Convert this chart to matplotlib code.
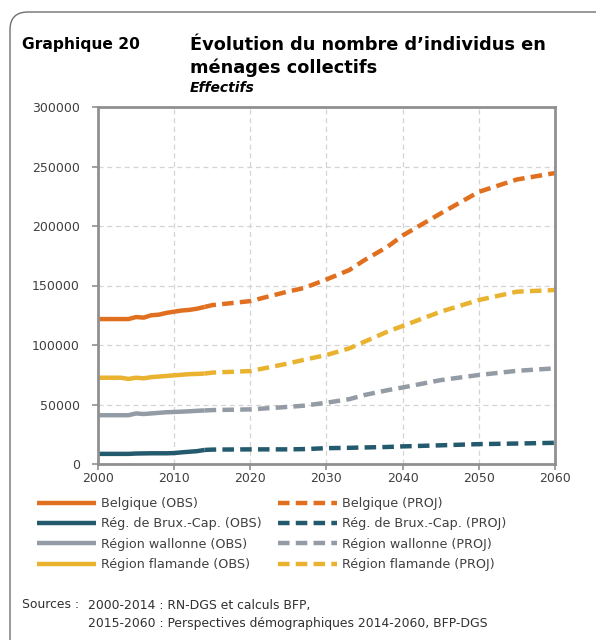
import numpy as np
import matplotlib.pyplot as plt
from matplotlib.patches import FancyBboxPatch

years_obs = list(range(2000, 2015))
years_proj = [2014, 2015, 2020, 2025, 2027, 2030, 2033, 2035, 2038, 2040, 2045, 2050, 2055, 2060]

belgique_obs = [121800, 121800, 121800, 121800, 121800, 123500, 123000, 125000,
                125500, 127000, 128000, 129000, 129500, 130500, 132000]
brux_obs = [8500, 8500, 8500, 8500, 8500, 8800, 8900, 9000, 9000, 9000,
            9200, 9800, 10300, 10800, 11800]
wallonne_obs = [41000, 41000, 41000, 41000, 41000, 42500, 42000, 42500, 43000,
                43500, 43700, 44000, 44300, 44700, 45000]
flamande_obs = [72500, 72500, 72500, 72500, 71500, 72500, 72000, 73000, 73500,
                74000, 74500, 75000, 75500, 75700, 76000]

belgique_proj = [132000, 133500, 136900, 145000, 147800, 155100, 163000, 171400,
                 182500, 192000, 210600, 228700, 239100, 244500]
brux_proj = [11800, 12100, 12300, 12300, 12500, 13300, 13600, 13900, 14300,
             14800, 15700, 16700, 17200, 17800]
wallonne_proj = [45000, 45300, 45900, 48000, 49000, 51500, 54500, 58000, 62000,
                 64300, 70500, 74800, 78300, 80400]
flamande_proj = [76000, 76800, 78100, 84500, 87500, 91600, 97200, 102800, 111200,
                 116000, 128000, 137800, 144800, 146200]

labels_obs = ["Belgique (OBS)", "Rég. de Brux.-Cap. (OBS)",
              "Région wallonne (OBS)", "Région flamande (OBS)"]
labels_proj = ["Belgique (PROJ)", "Rég. de Brux.-Cap. (PROJ)",
               "Région wallonne (PROJ)", "Région flamande (PROJ)"]
colors = ["#E0701F", "#245A6E", "#939BA5", "#E9B22F"]

obs = [belgique_obs, brux_obs, wallonne_obs, flamande_obs]
proj = [belgique_proj, brux_proj, wallonne_proj, flamande_proj]

fig = plt.figure(figsize=(5.96, 6.4), dpi=100)
ax = fig.add_axes([98/596, 1-464/640, (555-98)/596, (464-107)/640])

lw = 3.2
h_obs, h_proj = [], []
for ys, c, lab in zip(obs, colors, labels_obs):
    l, = ax.plot(years_obs, ys, color=c, lw=lw, label=lab, solid_capstyle='butt')
    h_obs.append(l)
for ys, c, lab in zip(proj, colors, labels_proj):
    l, = ax.plot(years_proj, ys, color=c, lw=lw, label=lab,
                 linestyle=(0, (2.6, 1.4)), dash_capstyle='butt')
    h_proj.append(l)

ax.set_xlim(2000, 2060)
ax.set_ylim(0, 300000)
ax.set_xticks(range(2000, 2061, 10))
ax.set_yticks(range(0, 300001, 50000))
ax.grid(True, color="#D4D4D4", linestyle=(0, (4, 3)), lw=0.9)
ax.set_axisbelow(True)
for s in ax.spines.values():
    s.set_color("#909090")
    s.set_linewidth(2)
ax.tick_params(colors="#909090", labelcolor="#404040", labelsize=9,
               length=4, width=1.2)
ax.tick_params(axis="y", pad=9)
ax.tick_params(axis="x", pad=1.5)

fig.legend(h_obs + h_proj, labels_obs + labels_proj, ncol=2, frameon=False,
           loc="upper left", bbox_to_anchor=(37/596, 1-497/640),
           fontsize=9.2, handlelength=4.6, handletextpad=0.4,
           columnspacing=1.3, labelspacing=0.58, borderpad=0, borderaxespad=0,
           labelcolor="#404040")

fig.text(22/596, 1-45/640, "Graphique 20", fontsize=11.2, fontweight="bold",
         va="center", ha="left")
fig.text(190/596, 1-45/640, "Évolution du nombre d’individus en", fontsize=12.8,
         fontweight="bold", va="center", ha="left")
fig.text(190/596, 1-68/640, "ménages collectifs", fontsize=12.8,
         fontweight="bold", va="center", ha="left")
fig.text(190/596, 1-88/640, "Effectifs", fontsize=10, fontweight="bold",
         fontstyle="italic", va="center", ha="left")

fig.text(22/596, 1-605/640, "Sources :", fontsize=8.9, color="#303030",
         va="center", ha="left")
fig.text(88/596, 1-605/640, "2000-2014 : RN-DGS et calculs BFP,", fontsize=8.9,
         color="#303030", va="center", ha="left")
fig.text(88/596, 1-624/640,
         "2015-2060 : Perspectives démographiques 2014-2060, BFP-DGS",
         fontsize=8.9, color="#303030", va="center", ha="left")

frame = FancyBboxPatch((10/596, -0.1), 1.2, 1.1 - 12/640,
                       boxstyle="round,pad=0,rounding_size=0.03",
                       transform=fig.transFigure, fill=False,
                       edgecolor="#707070", lw=1, mutation_aspect=596/640)
fig.patches.append(frame)

fig.savefig("out.png", dpi=100)
